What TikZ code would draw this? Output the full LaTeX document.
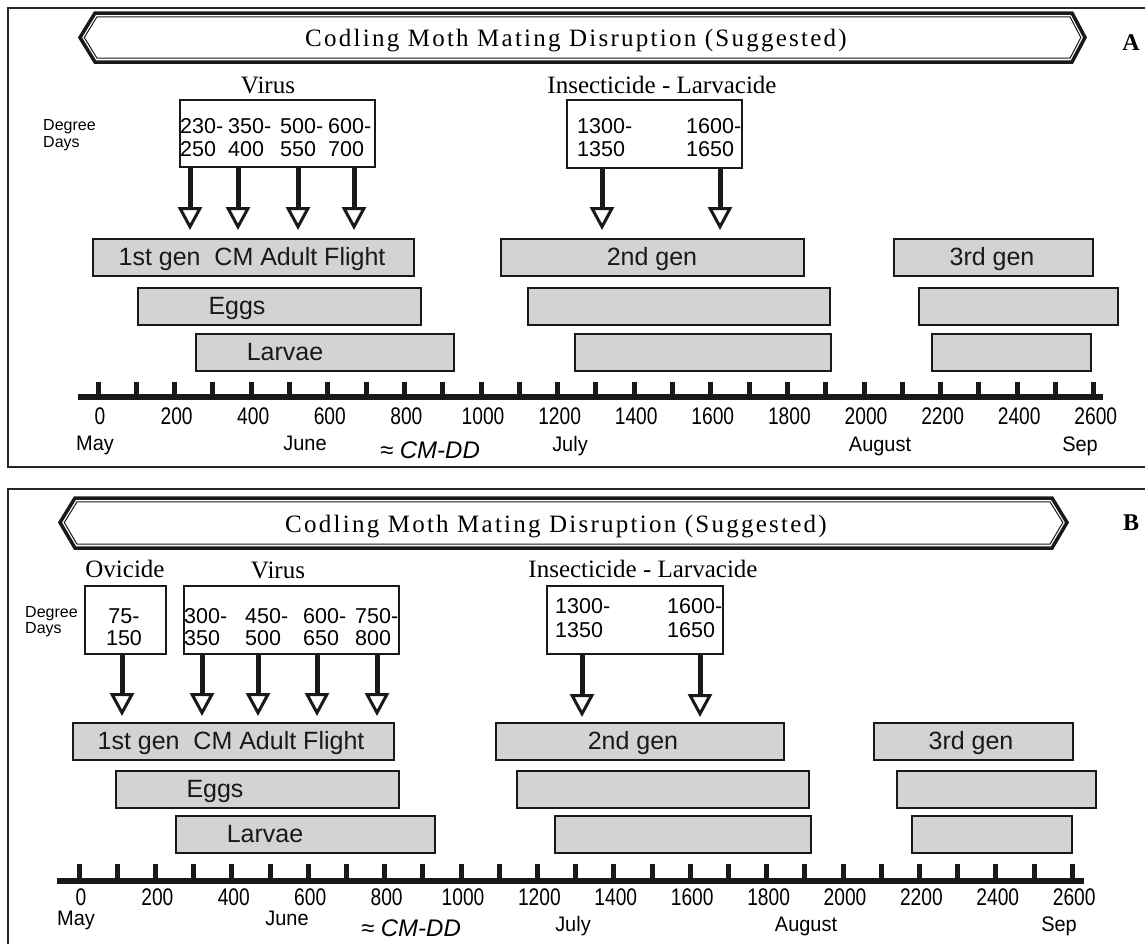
\documentclass[tikz,border=0pt]{standalone}
\usepackage{fontspec}
\setmainfont{Liberation Serif}
\setsansfont{Liberation Sans}
\newfontfamily\titlefont[LetterSpace=9]{Liberation Serif}
\newfontfamily\tickfont[FakeStretch=0.8]{Liberation Sans}
\newfontfamily\monthfont[FakeStretch=0.95]{Liberation Sans}
\newfontfamily\plainsans{Liberation Sans}
\usetikzlibrary{arrows.meta}
\definecolor{bargray}{HTML}{D1D3D4}
\tikzset{
  frameline/.style={line width=2pt, draw=black!85},
  banner/.style={line width=3.5pt, line join=miter, draw=black!90},
  bannerin/.style={line width=1pt, line join=miter, draw=black!90},
  titletext/.style={inner sep=0pt, anchor=base west, font=\titlefont\fontsize{25}{28}\selectfont},
  paneltag/.style={inner sep=0pt, anchor=base, font=\bfseries\fontsize{24}{26}\selectfont},
  treatlbl/.style={inner sep=0pt, anchor=base, font=\rmfamily\fontsize{25}{28}\selectfont},
  ddbox/.style={draw=black!90, line width=2pt, fill=white, inner sep=0pt, anchor=north west},
  ddnum/.style={inner sep=0pt, anchor=base west, font=\plainsans\fontsize{21.5}{23}\selectfont},
  ddlbl/.style={inner sep=0pt, anchor=base west, font=\plainsans\fontsize{16}{17}\selectfont},
  treat/.style={line width=5pt, draw=black!90, -{Triangle[length=23pt,width=24pt,line width=3pt,fill=white]}},
  bar/.style={draw=black!90, line width=2pt, fill=bargray, inner sep=0pt, anchor=north west, minimum height=37pt},
  barlbl/.style={inner sep=0pt, anchor=base, font=\plainsans\fontsize{25}{28}\selectfont, text=black!90},
  axisline/.style={line width=6pt, draw=black!90},
  tickmark/.style={line width=5pt, draw=black!90},
  ticklbl/.style={inner sep=0pt, anchor=base, font=\tickfont\fontsize{24}{26}\selectfont},
  monthlbl/.style={inner sep=0pt, anchor=base, font=\monthfont\fontsize{21}{23}\selectfont},
  ddunit/.style={inner sep=0pt, anchor=base, font=\plainsans\itshape\fontsize{24}{26}\selectfont},
}
\begin{document}
\begin{tikzpicture}[x=1pt,y=-1pt]
\useasboundingbox[fill=white] (0,0) rectangle (1145,943);

% ================= PANEL A =================
\draw[frameline] (1146,8) -- (8,8) -- (8,467) -- (1146,467);
\draw[banner] (95,13) -- (1072,13) -- (1085,37.5) -- (1072,62) -- (95,62) -- (80,37.5) -- cycle;
\draw[bannerin] (97,16.8) -- (1070,16.8) -- (1080.8,37.5) -- (1070,58.2) -- (97,58.2) -- (84.3,37.5) -- cycle;
\node[titletext] (titA) at (305,46.5) {Codling Moth Mating Disruption (Suggested)};
\node[paneltag] (tagA) at (1131,50) {A};

\node[ddlbl] (degA) at (43,130) {Degree};
\node[ddlbl] (dayA) at (43,147) {Days};

\node[treatlbl] (virlA) at (268,93) {Virus};
\node[treatlbl] (inslA) at (662,93) {Insecticide - Larvacide};

\node[ddbox, minimum width=195pt, minimum height=67pt] (virA) at (179,99) {};
\node[ddbox, minimum width=175pt, minimum height=68pt] (insA) at (566,99) {};

\node[ddnum] at (180,133) {230-}; \node[ddnum] at (180,156) {250};
\node[ddnum] at (228,133) {350-}; \node[ddnum] at (228,156) {400};
\node[ddnum] at (280,133) {500-}; \node[ddnum] at (280,156) {550};
\node[ddnum] at (328,133) {600-}; \node[ddnum] at (328,156) {700};
\node[ddnum] at (577,133) {1300-}; \node[ddnum] at (577,156) {1350};
\node[ddnum] at (686,133) {1600-}; \node[ddnum] at (686,156) {1650};

\coordinate (tA1) at (190,230);
\coordinate (tA2) at (238,230);
\coordinate (tA3) at (298,230);
\coordinate (tA4) at (354,230);
\coordinate (tA5) at (602,230);
\coordinate (tA6) at (720,230);
\foreach \c in {tA1,tA2,tA3,tA4} \draw[treat] (virA.south -| \c) -- (\c);
\foreach \c in {tA5,tA6} \draw[treat] (insA.south -| \c) -- (\c);

\node[bar, minimum width=321pt] (a1) at (92,238) {};
\node[bar, minimum width=283pt] (a2) at (137,287) {};
\node[bar, minimum width=258pt] (a3) at (195,333) {};
\node[bar, minimum width=303pt] (a4) at (500,238) {};
\node[bar, minimum width=302pt] (a5) at (527,287) {};
\node[bar, minimum width=256pt] (a6) at (574,333) {};
\node[bar, minimum width=199pt] (a7) at (893,238) {};
\node[bar, minimum width=199pt] (a8) at (918,287) {};
\node[bar, minimum width=159pt] (a9) at (931,333) {};
\node[barlbl] at (252,265.5) {1st gen\ \ CM Adult Flight};
\node[barlbl] at (237,314.5) {Eggs};
\node[barlbl] at (285,360.5) {Larvae};
\node[barlbl] at (652,265.5) {2nd gen};
\node[barlbl] at (992,265.5) {3rd gen};

\draw[axisline] (78,397) -- (1103,397);
\foreach \k in {0,...,26} \draw[tickmark] ({98+38.3*\k},397) -- ({98+38.3*\k},382);
\foreach \k [evaluate=\k as \v using int(200*\k)] in {0,...,13}
  \node[ticklbl] at ({98+76.6*\k+2},424) {\v};
\node[monthlbl] at (95,450) {May};
\node[monthlbl] at (305,450) {June};
\node[monthlbl] at (570,451) {July};
\node[monthlbl] at (880,451) {August};
\node[monthlbl] at (1080,451) {Sep};
\node[ddunit] at (430,458) {≈ CM-DD};

% ================= PANEL B =================
\draw[frameline] (1146,489) -- (8,489) -- (8,944);
\draw[banner] (75,498) -- (1052,498) -- (1067,522.5) -- (1052,548) -- (75,548) -- (60,522.5) -- cycle;
\draw[bannerin] (77,501.8) -- (1050,501.8) -- (1062.8,522.5) -- (1050,544.2) -- (77,544.2) -- (64.3,522.5) -- cycle;
\node[titletext] (titB) at (285,532) {Codling Moth Mating Disruption (Suggested)};
\node[paneltag] (tagB) at (1131,530) {B};

\node[ddlbl] (degB) at (25,617) {Degree};
\node[ddlbl] (dayB) at (25,633) {Days};

\node[treatlbl] (ovilB) at (125,577) {Ovicide};
\node[treatlbl] (virlB) at (278,578) {Virus};
\node[treatlbl] (inslB) at (643,577) {Insecticide - Larvacide};

\node[ddbox, minimum width=81pt, minimum height=68pt] (oviB) at (84,585) {};
\node[ddbox, minimum width=215pt, minimum height=68pt] (virB) at (183,585) {};
\node[ddbox, minimum width=176pt, minimum height=68pt] (insB) at (546,585) {};

\node[ddnum, anchor=base] at (124,623) {75-}; \node[ddnum, anchor=base] at (124,645) {150};
\node[ddnum] at (184,623) {300-}; \node[ddnum] at (184,645) {350};
\node[ddnum] at (245,623) {450-}; \node[ddnum] at (245,645) {500};
\node[ddnum] at (303,623) {600-}; \node[ddnum] at (303,645) {650};
\node[ddnum] at (355,623) {750-}; \node[ddnum] at (355,645) {800};
\node[ddnum] at (555,613) {1300-}; \node[ddnum] at (555,637) {1350};
\node[ddnum] at (667,613) {1600-}; \node[ddnum] at (667,637) {1650};

\coordinate (tB1) at (122,716);
\coordinate (tB2) at (202,716);
\coordinate (tB3) at (258,716);
\coordinate (tB4) at (317,716);
\coordinate (tB5) at (377,716);
\coordinate (tB6) at (582,717);
\coordinate (tB7) at (700,717);
\draw[treat] (oviB.south -| tB1) -- (tB1);
\foreach \c in {tB2,tB3,tB4,tB5} \draw[treat] (virB.south -| \c) -- (\c);
\foreach \c in {tB6,tB7} \draw[treat] (insB.south -| \c) -- (\c);

\node[bar, minimum width=321pt] (b1) at (72,722) {};
\node[bar, minimum width=283pt] (b2) at (115,770) {};
\node[bar, minimum width=259pt] (b3) at (175,815) {};
\node[bar, minimum width=288pt] (b4) at (495,722) {};
\node[bar, minimum width=292pt] (b5) at (516,770) {};
\node[bar, minimum width=256pt] (b6) at (554,815) {};
\node[bar, minimum width=199pt] (b7) at (873,722) {};
\node[bar, minimum width=199pt] (b8) at (896,770) {};
\node[bar, minimum width=160pt] (b9) at (911,815) {};
\node[barlbl] at (231,749.5) {1st gen\ \ CM Adult Flight};
\node[barlbl] at (215,797.5) {Eggs};
\node[barlbl] at (265,842.5) {Larvae};
\node[barlbl] at (633,749.5) {2nd gen};
\node[barlbl] at (971,749.5) {3rd gen};

\draw[axisline] (57,881) -- (1084,881);
\foreach \k in {0,...,26} \draw[tickmark] ({79+38.2*\k},881) -- ({79+38.2*\k},864);
\foreach \k [evaluate=\k as \v using int(200*\k)] in {0,...,13}
  \node[ticklbl] at ({79+76.4*\k+2},905) {\v};
\node[monthlbl] at (76,925) {May};
\node[monthlbl] at (287,925) {June};
\node[monthlbl] at (573,931) {July};
\node[monthlbl] at (806,931) {August};
\node[monthlbl] at (1059,931) {Sep};
\node[ddunit] at (411,936) {≈ CM-DD};
\end{tikzpicture}
\end{document}
